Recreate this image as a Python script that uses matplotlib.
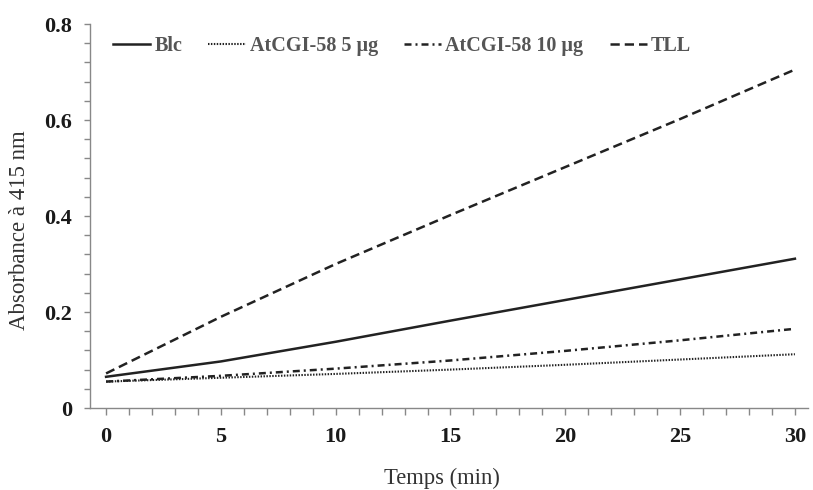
import matplotlib
matplotlib.use("Agg")
import matplotlib.pyplot as plt
from matplotlib.ticker import MultipleLocator

time_min = [0, 5, 10, 15, 20, 25, 30]
blc = [0.065, 0.097, 0.138, 0.182, 0.225, 0.268, 0.311]
atcgi_5 = [0.055, 0.063, 0.071, 0.080, 0.090, 0.101, 0.112]
atcgi_10 = [0.055, 0.067, 0.082, 0.099, 0.119, 0.141, 0.165]
tll = [0.072, 0.190, 0.300, 0.402, 0.502, 0.602, 0.705]

labels = ["Blc", "AtCGI-58 5 µg", "AtCGI-58 10 µg", "TLL"]

plt.rcParams['font.family'] = ['Liberation Serif', 'DejaVu Serif']

fig = plt.figure(figsize=(8.13, 4.90), dpi=100)
ax = fig.add_axes([90/813, 1-408/490, (808-90)/813, (408-24)/490])

lc = '#222222'
ax.plot(time_min, blc, color=lc, lw=1.8, ls='-', label=labels[0])
ax.plot(time_min, atcgi_5, color=lc, lw=1.5, ls=(0, (0.7, 0.7)), label=labels[1])
ax.plot(time_min, atcgi_10, color=lc, lw=1.8, ls=(0, (2.8, 1.6, 0.8, 1.6)), label=labels[2])
ax.plot(time_min, tll, color=lc, lw=1.8, ls=(0, (3.7, 2.0)), label=labels[3])

ax.set_xlim(-0.7, 30.57)
ax.set_ylim(0, 0.8)

for s in ['top', 'right']:
    ax.spines[s].set_visible(False)
for s in ['left', 'bottom']:
    ax.spines[s].set_color('#888888')
    ax.spines[s].set_linewidth(1.0)

ax.xaxis.set_major_locator(MultipleLocator(5))
ax.xaxis.set_minor_locator(MultipleLocator(1))
ax.yaxis.set_major_locator(MultipleLocator(0.2))
ax.yaxis.set_minor_locator(MultipleLocator(0.04))
ax.tick_params(axis='both', which='both', direction='out', color='#888888', width=1.0)
ax.tick_params(axis='x', which='both', length=5)
ax.tick_params(axis='y', which='both', length=4)
ax.tick_params(axis='both', which='major', labelsize=16, labelcolor='#1a1a1a')
ax.tick_params(axis='x', which='major', pad=9)
ax.tick_params(axis='y', which='major', pad=9)
ax.set_yticks([0, 0.2, 0.4, 0.6, 0.8])
ax.set_yticklabels(['0', '0.2', '0.4', '0.6', '0.8'])
for t in ax.get_xticklabels() + ax.get_yticklabels():
    t.set_fontweight('bold')

ax.set_xlabel('Temps (min)', fontsize=16.3, color='#333333')
ax.xaxis.set_label_coords((442-90)/718, 1-(478-24)/384, transform=ax.transAxes)
ax.xaxis.label.set_va('center')
ax.set_ylabel('Absorbance à 415 nm', fontsize=16.5, color='#333333')
ax.yaxis.set_label_coords((20-90)/718, 1-(230-24)/384, transform=ax.transAxes)
ax.yaxis.label.set_va('center')

leg = fig.legend(*ax.get_legend_handles_labels(), loc='center left',
                 bbox_to_anchor=(113/813, 1-46/490), ncol=4, frameon=False,
                 borderpad=0, borderaxespad=0,
                 handlelength=1.85, columnspacing=1.3, handletextpad=0.2,
                 prop={'family': ['Liberation Serif', 'DejaVu Serif'], 'weight': 'bold', 'size': 14.5})
for t in leg.get_texts():
    t.set_color('#555555')

fig.savefig('out.png', dpi=100, facecolor='white')
